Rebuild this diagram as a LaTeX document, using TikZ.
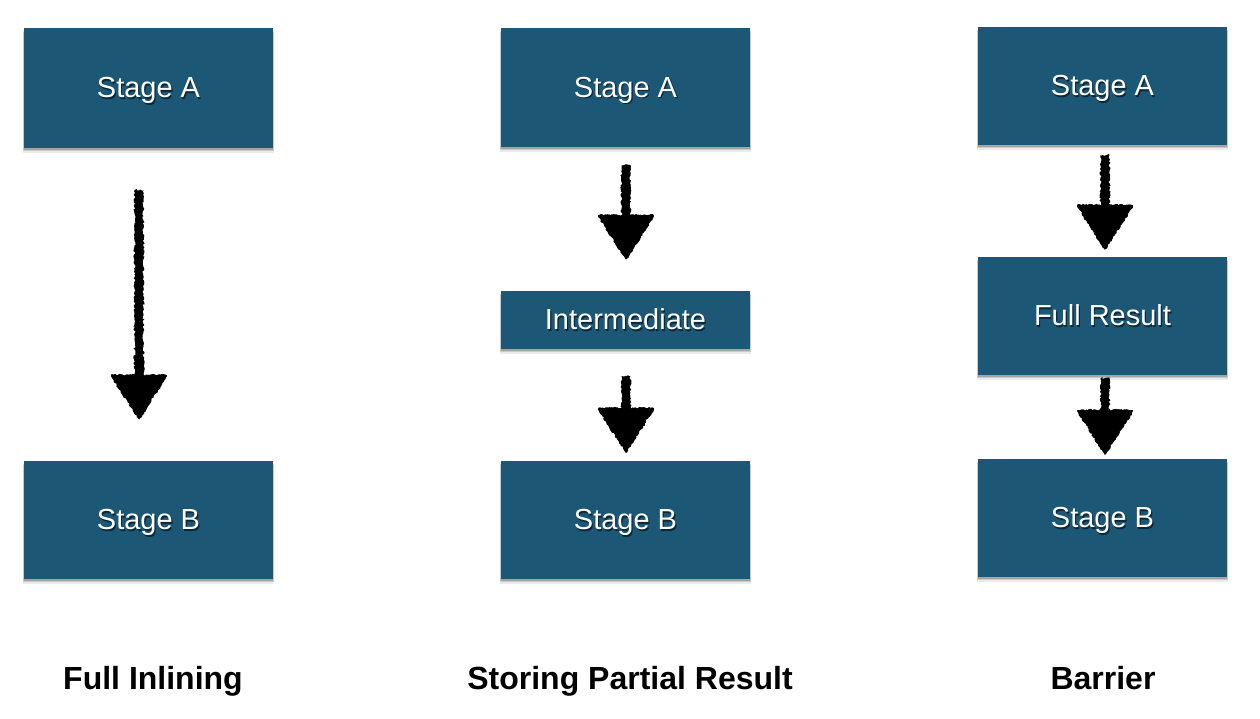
\documentclass[tikz,border=0pt]{standalone}
\usepackage{fontspec}
\setmainfont{Liberation Sans}
\usetikzlibrary{calc,shadows,decorations.pathmorphing}
\definecolor{boxblue}{RGB}{28,87,117}
\colorlet{txtshadow}{boxblue!45!black}
\newcommand\shtext[1]{\makebox[0pt][l]{\hspace{1.2pt}\raisebox{-1.6pt}{\color{txtshadow}#1}}#1}
\newcommand\harrow[2]{%
  \fill[rough] ($(#1)+(-4.5,0)$) -- ($(#1)+(4.5,0)$) -- ($(#2)+(4.5,-40)$) -- ($(#2)+(-4.5,-40)$) -- cycle;
  \fill[rough] ($(#2)+(-28,-45)$) -- ($(#2)+(28,-45)$) -- (#2) -- cycle;
  \draw[rough, line width=2pt, line join=round] ($(#2)+(-27,-44)$) -- ($(#2)+(27,-44)$) -- ($(#2)+(0,-2)$) -- cycle;
}
\tikzset{
  stagebox/.style={fill=boxblue, text=white, minimum width=249, inner sep=0pt, outer sep=0pt,
    font=\fontsize{29}{34}\selectfont, text height=21pt, text depth=2pt,
    drop shadow={shadow xshift=0pt, shadow yshift=-1.5pt, opacity=0.18, fill=black},
    drop shadow={shadow xshift=0pt, shadow yshift=-3pt, opacity=0.14, fill=black, shadow scale=1.005},
    drop shadow={shadow xshift=0pt, shadow yshift=-4.5pt, opacity=0.08, fill=black, shadow scale=1.01}},
  rough/.style={decorate, decoration={random steps, segment length=1.6pt, amplitude=1.1pt}, black},
  caption/.style={font=\fontsize{32}{38}\selectfont\bfseries, text=black, text height=23pt, text depth=7pt}
}
\begin{document}
\begin{tikzpicture}[x=1pt, y=-1pt]
\path[use as bounding box, fill=white] (0,0) rectangle (1260,718);
% column 1
\node[stagebox, minimum height=120] (a1) at (148.5,88) {\shtext{Stage A}};
\node[stagebox, minimum height=118] (b1) at (148.5,520) {\shtext{Stage B}};
% column 2
\node[stagebox, minimum height=119] (a2) at (625.5,87.5) {\shtext{Stage A}};
\node[stagebox, minimum height=58] (i2) at (625.5,320) {\shtext{Intermediate}};
\node[stagebox, minimum height=118] (b2) at (625.5,520) {\shtext{Stage B}};
% column 3
\node[stagebox, minimum height=118] (a3) at (1102.5,86) {\shtext{Stage A}};
\node[stagebox, minimum height=118] (f3) at (1102.5,316) {\shtext{Full Result}};
\node[stagebox, minimum height=118] (b3) at (1102.5,518) {\shtext{Stage B}};
% arrow end points
\coordinate (s1) at (139,190); \coordinate (e1) at (139,420);
\coordinate (s2) at (626,165); \coordinate (e2) at (626,260);
\coordinate (s3) at (626,376); \coordinate (e3) at (626,453);
\coordinate (s4) at (1105,155); \coordinate (e4) at (1105,250);
\coordinate (s5) at (1105,378); \coordinate (e5) at (1105,455);
\harrow{s1}{e1}
\harrow{s2}{e2}
\harrow{s3}{e3}
\harrow{s4}{e4}
\harrow{s5}{e5}
% captions
\node[caption] (c1) at (153,681) {Full Inlining};
\node[caption] (c2) at (630,681) {Storing Partial Result};
\node[caption] (c3) at (1103,681) {Barrier};
\end{tikzpicture}
\end{document}
